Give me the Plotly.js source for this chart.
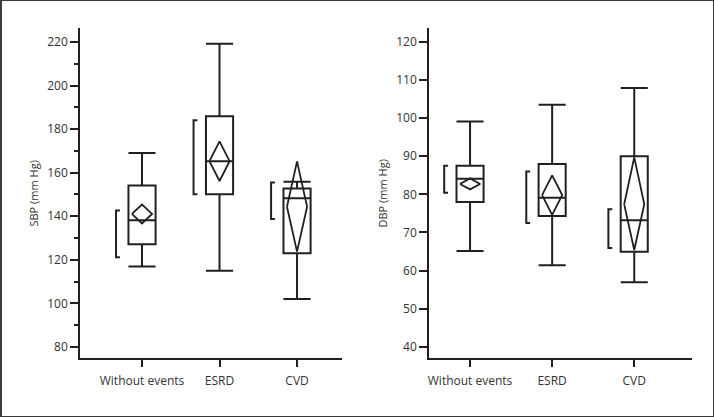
<!DOCTYPE html>
<html>
<head>
<meta charset="utf-8">
<script src="https://cdn.plot.ly/plotly-3.0.1.min.js"></script>
<style>
  body { margin: 0; padding: 0; background: #fff; }
  #wrap { position: relative; width: 714px; height: 417px; }
  #myGraph { width: 714px; height: 417px; }
  #frame {
    position: absolute; left: 0; top: 0; width: 714px; height: 417px;
    box-sizing: border-box; border: 1px solid #3a3a3a; border-left-width: 2px;
    pointer-events: none;
  }
</style>
</head>
<body>
<div id="wrap">
  <div id="myGraph"></div>
  <div id="frame"></div>
</div>
<script>
// 그룹 이름
var groups = ['Without events', 'ESRD', 'CVD'];
var groupPos = [0, 1, 2];

// SBP (mm Hg) - 박스 통계값
var sbpLow = [117, 115, 102];
var sbpQ1 = [127.2, 150.1, 123];
var sbpMed = [138.2, 165.3, 148.3];
var sbpQ3 = [154.1, 185.9, 152.7];
var sbpHigh = [169, 219.2, 155.8];
// 평균 다이아몬드 (평균, 신뢰구간)
var sbpMean = [141.1, 165.3, 144.4];
var sbpCiLo = [136.7, 156.2, 123.8];
var sbpCiHi = [145.4, 174.4, 165.2];
// 최단 절반 브래킷
var sbpShortLo = [121.2, 150.1, 138.7];
var sbpShortHi = [142.6, 184.1, 155.5];

// DBP (mm Hg)
var dbpLow = [65.1, 61.4, 56.9];
var dbpQ1 = [78, 74.3, 64.9];
var dbpMed = [84.1, 79.1, 73.2];
var dbpQ3 = [87.5, 88, 90];
var dbpHigh = [99.1, 103.5, 107.9];
var dbpMean = [82.7, 79.8, 77.4];
var dbpCiLo = [81.3, 74.6, 65.4];
var dbpCiHi = [84.2, 85.0, 89.7];
var dbpShortLo = [80.4, 72.5, 65.9];
var dbpShortHi = [87.5, 86.0, 76.1];

var ink = '#231f20';

// 박스 트레이스
function boxTrace(xa, ya, lo, q1, med, q3, hi, w) {
    return {
        type: 'box',
        x: groupPos,
        q1: q1, median: med, q3: q3,
        lowerfence: lo, upperfence: hi,
        width: w,
        whiskerwidth: 1,
        boxpoints: false,
        fillcolor: 'rgba(0,0,0,0)',
        line: { color: ink, width: 2 },
        xaxis: xa, yaxis: ya,
        hoverinfo: 'skip',
        showlegend: false
    };
}

// 평균 다이아몬드 - 꼭짓점 배열 만들기
function diamondTrace(xa, ya, mean, lo, hi, w) {
    var xs = [], ys = [];
    for (var i = 0; i < groupPos.length; i++) {
        var c = groupPos[i];
        xs.push(c - w / 2, c, c + w / 2, c, c - w / 2, null);
        ys.push(mean[i], hi[i], mean[i], lo[i], mean[i], null);
    }
    return {
        type: 'scatter', mode: 'lines',
        x: xs, y: ys,
        line: { color: ink, width: 1.8 },
        xaxis: xa, yaxis: ya,
        hoverinfo: 'skip', showlegend: false
    };
}

// 왼쪽 브래킷
function bracketTrace(xa, ya, lo, hi, off, tick) {
    var xs = [], ys = [];
    for (var i = 0; i < groupPos.length; i++) {
        var b = groupPos[i] - off;
        xs.push(b + tick, b, b, b + tick, null);
        ys.push(hi[i], hi[i], lo[i], lo[i], null);
    }
    return {
        type: 'scatter', mode: 'lines',
        x: xs, y: ys,
        line: { color: ink, width: 2 },
        xaxis: xa, yaxis: ya,
        hoverinfo: 'skip', showlegend: false
    };
}

var data = [
    boxTrace('x', 'y', sbpLow, sbpQ1, sbpMed, sbpQ3, sbpHigh, 0.35),
    diamondTrace('x', 'y', sbpMean, sbpCiLo, sbpCiHi, 0.26),
    bracketTrace('x', 'y', sbpShortLo, sbpShortHi, 0.335, 0.05),
    boxTrace('x2', 'y2', dbpLow, dbpQ1, dbpMed, dbpQ3, dbpHigh, 0.33),
    diamondTrace('x2', 'y2', dbpMean, dbpCiLo, dbpCiHi, 0.245),
    bracketTrace('x2', 'y2', dbpShortLo, dbpShortHi, 0.315, 0.047)
];

var tickFont = { family: 'Open Sans, sans-serif', size: 12, color: '#333' };

function xAxis(dom, rng, anchor) {
    return {
        domain: dom, range: rng, anchor: anchor,
        tickvals: groupPos, ticktext: groups,
        ticks: 'outside', ticklen: 7, tickwidth: 1.5, tickcolor: ink,
        ticklabelstandoff: 4,
        showline: true, linecolor: ink, linewidth: 1.5,
        showgrid: false, zeroline: false,
        tickfont: tickFont
    };
}

function yAxis(dom, rng, dtick, title, anchor, minor) {
    var ax = {
        domain: dom, range: rng, anchor: anchor,
        dtick: dtick, tick0: 0,
        ticks: 'outside', ticklen: 8, tickwidth: 1.5, tickcolor: ink,
        showline: true, linecolor: ink, linewidth: 1.5,
        showgrid: false, zeroline: false,
        tickfont: tickFont,
        title: { text: title, font: { family: 'Open Sans, sans-serif', size: 11, color: '#333' }, standoff: 6 }
    };
    if (minor) {
        ax.minor = { dtick: minor, ticks: 'outside', ticklen: 4, tickwidth: 1.5, tickcolor: ink, showgrid: false };
    }
    return ax;
}

var layout = {
    width: 714, height: 417,
    margin: { l: 0, r: 0, t: 0, b: 0 },
    paper_bgcolor: '#fff',
    plot_bgcolor: '#fff',
    showlegend: false,
    xaxis: xAxis([0.11204, 0.47899], [-0.8, 2.58], 'y'),
    yaxis: yAxis([0.1408, 0.9321], [74.81, 226.29], 20, 'SBP (mm Hg)', 'x', 10),
    xaxis2: xAxis([0.60084, 0.96877], [-0.5, 2.7], 'y2'),
    yaxis2: yAxis([0.1408, 0.9321], [36.95, 123.6], 10, 'DBP (mm Hg)', 'x2', null)
};

var config = { displayModeBar: false, responsive: false };

Plotly.newPlot('myGraph', data, layout, config);
</script>
</body>
</html>
